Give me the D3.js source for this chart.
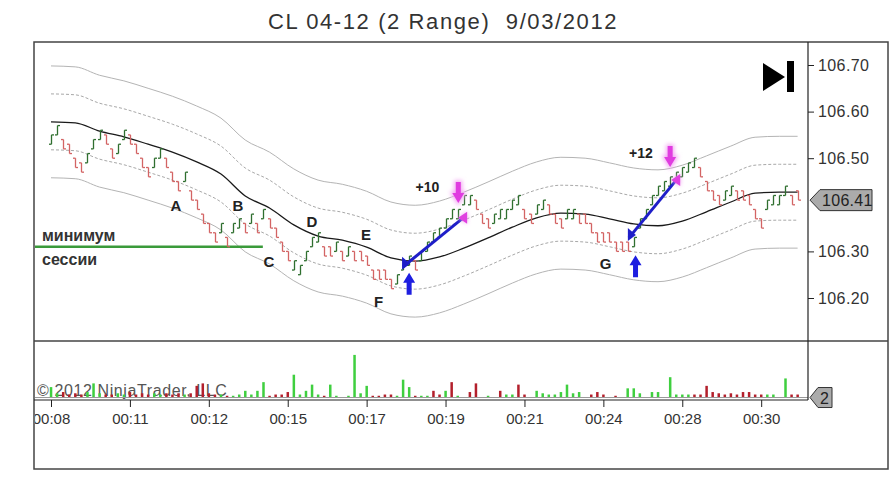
<!DOCTYPE html>
<html><head><meta charset="utf-8">
<script src="https://cdn.jsdelivr.net/npm/d3@7"></script>
<style>body{margin:0;background:#fff}svg{display:block;font-family:"Liberation Sans",Arial,sans-serif}</style>
</head><body><svg id="c" width="892" height="485"></svg>
<script>
// ---------------- DATA ----------------
const title = "CL 04-12 (2 Range)\u00a0\u00a09/03/2012";
const barRange = 0.02;
const barLow = [
 106.53,106.55,106.52,106.51,106.48,106.47,106.49,106.52,106.54,106.53,
 106.50,106.51,106.54,106.53,106.51,106.48,106.46,106.48,106.50,106.48,
 106.45,106.43,106.45,106.41,106.39,106.36,106.34,106.32,106.34,106.31,
 106.34,106.35,106.34,106.36,106.34,106.37,106.35,106.33,106.30,106.28,
 106.26,106.25,106.28,106.31,106.32,106.29,106.29,106.30,106.28,106.29,
 106.28,106.28,106.27,106.24,106.24,106.24,106.22,106.23,106.26,106.27,
 106.26,106.28,106.30,106.32,106.33,106.35,106.37,106.37,106.40,106.40,
 106.39,106.36,106.35,106.36,106.37,106.37,106.39,106.40,106.37,106.36,
 106.38,106.39,106.38,106.36,106.35,106.37,106.37,106.36,106.36,106.34,
 106.32,106.32,106.32,106.30,106.30,106.30,106.31,106.35,106.37,106.40,
 106.42,106.43,106.44,106.45,106.46,106.47,106.48,106.46,106.43,106.41,
 106.40,106.41,106.42,106.41,106.41,106.40,106.37,106.35,106.39,106.40,
 106.40,106.42,106.40,106.41];
const barDir =
 "uudddduuud"+"duudddduud"+"ddudddddud"+"uudududddd"+"uuuuudduDu".toLowerCase()+
 "ddddddduuu"+"duuuuuuuuu"+"ddduuuuudd"+"uuddduuddd"+
 "dddddduuuu"+"uuuuuuuddd"+"duuddddduu"+"uudd";
const volume = [
 8,3,4,2,3,2,4,11,3,2, 2,3,2,4,2,3,2,3,2,3, 2,3,2,3,9,11,3,2,2,1,
 1,2,5,2,5,12,1,2,2,4, 18,2,5,10,2,1,10,1,0,1, 34,3,9,1,1,2,2,1,14,8,
 1,1,1,5,2,5,12,1,0,4, 11,0,1,0,5,2,2,10,2,0, 5,3,2,2,4,10,3,4,0,2,
 4,2,0,1,0,7,7,3,0,4, 4,0,16,2,2,2,2,2,9,4, 3,2,3,2,4,4,2,2,2,2,
 0,15,2,2];
const volDir =
 "uudddduuud"+"duudddduud"+"ddudddddud"+"uuuuuudddd"+"uuuuuduudu"+
 "uuudddduuu"+"duudduduud"+"dduuduuddd"+"uuuuuuuudd"+"ddddduuuuu"+
 "uuuuuudddd"+"dddddddduu"+"uudd";
const maBars = [0,4,8,12,16,20,24,28,32,36,40,44,48,52,56,60,64,68,72,76,80,84,88,92,96,100,104,108,112,116,120,123];
const maVals = [106.578,106.576,106.558,106.546,106.530,106.513,106.492,106.466,106.419,106.393,
 106.357,106.333,106.324,106.309,106.286,106.279,106.288,106.307,106.329,106.352,106.372,106.382,
 106.380,106.370,106.359,106.355,106.365,106.385,106.406,106.425,106.427,106.427];
const bandOffsets = [0.06, 0.12];
const priceTicks = [106.20,106.30,106.50,106.60,106.70]; // 106.40 is hidden behind the last-price marker
const timeTickBars = [0,13,26,39,52,65,78,91,104,117];
const timeTickLabels = ["00:08","00:11","00:12","00:15","00:17","00:19","00:21","00:24","00:28","00:30"];
const lastPrice = 106.41, lastVolume = 2;
const sessionLow = 106.31, sessionLowEndBar = 34.9;
const sessionLowText = ["минимум","сессии"];
const pointLabels = [
 {t:"A",bar:20.6,price:106.387},{t:"B",bar:30.8,price:106.387},{t:"C",bar:35.9,price:106.267},
 {t:"D",bar:43.0,price:106.352},{t:"E",bar:51.9,price:106.324},{t:"F",bar:53.95,price:106.181},
 {t:"G",bar:91.35,price:106.262}];
const entryArrows = [{bar:59,price:106.254},{bar:96.3,price:106.292}];
const exitArrows = [{bar:67.1,price:106.404},{bar:102,price:106.481}];
const trades = [
 {b0:58.0,p0:106.267,b1:67.9,p1:106.372,label:"+10",lb:62.0,lp:106.428},
 {b0:95.2,p0:106.329,b1:103.0,p1:106.453,label:"+12",lb:97.2,lp:106.500}];
const copyright = "\u00a9 2012 NinjaTrader, LLC";

// ---------------- LAYOUT ----------------
const svg = d3.select("#c");
const L = 34, R = 888, T = 42, B = 469, AX = 808, SEP = 341, VB = 397, VBOT = 400;
const x = d3.scaleLinear().domain([0,123]).range([51,797.6]);
const y = d3.scaleLinear().domain([106.20,106.70]).range([298,65]);
const yv = d3.scaleLinear().domain([0,42]).range([VB,SEP+4]);

svg.append("text").attr("x",443).attr("y",29).attr("text-anchor","middle")
  .attr("font-size",22).attr("letter-spacing",1.6).attr("fill","#333").text(title);

const defs = svg.append("defs");
defs.append("clipPath").attr("id","pc").append("rect").attr("x",L+1).attr("y",T+1).attr("width",AX-L-1).attr("height",SEP-T-1);
defs.append("clipPath").attr("id","vc").append("rect").attr("x",L+1).attr("y",SEP).attr("width",AX-L-1).attr("height",VBOT-SEP);
defs.append("clipPath").attr("id","xc").append("rect").attr("x",L+1).attr("y",VBOT).attr("width",AX-L).attr("height",B-VBOT);
const glow = defs.append("filter").attr("id","glow").attr("x","-50%").attr("y","-50%").attr("width","200%").attr("height","200%");
glow.append("feGaussianBlur").attr("stdDeviation",2);

const pg = svg.append("g").attr("clip-path","url(#pc)");

// bands
const ma = maBars.map((b,i)=>({b, v:maVals[i]}));
const line = off => d3.line().x(d=>x(d.b)).y(d=>y(d.v+off)).curve(d3.curveMonotoneX)(ma);
bandOffsets.forEach((o,k)=>{
  [o,-o].forEach(off=>{
    pg.append("path").attr("d",line(off)).attr("fill","none")
      .attr("stroke", k===0 ? "#a8a8a8" : "#b4b4b4").attr("stroke-width",1)
      .attr("stroke-dasharray", k===0 ? "3,2" : null);
  });
});
pg.append("path").attr("d",line(0)).attr("fill","none").attr("stroke","#1a1a1a").attr("stroke-width",1.3);

// session low line
pg.append("line").attr("x1",L).attr("x2",x(sessionLowEndBar)).attr("y1",y(sessionLow)).attr("y2",y(sessionLow))
  .attr("stroke","#3a9a3a").attr("stroke-width",2.5);
pg.append("text").attr("x",L+8).attr("y",y(sessionLow)-6).attr("font-size",16).attr("font-weight","bold").attr("fill","#333").text(sessionLowText[0]);
pg.append("text").attr("x",L+8).attr("y",y(sessionLow)+18).attr("font-size",16).attr("font-weight","bold").attr("fill","#333").text(sessionLowText[1]);

// OHLC range bars
const bars = barLow.map((lo,i)=>{
  const up = barDir[i]==="u";
  const hi = +(lo+barRange).toFixed(2);
  return {i, lo, hi, o: up?lo:hi, c: up?hi:lo, up};
});
const bg = pg.append("g");
bars.forEach(d=>{
  const col = d.up ? "#2f6f2f" : "#d36464";
  const xx = Math.round(x(d.i))+0.5;
  bg.append("line").attr("x1",xx).attr("x2",xx).attr("y1",y(d.hi)).attr("y2",y(d.lo)).attr("stroke",col).attr("stroke-width",1.3);
  bg.append("line").attr("x1",xx-2.5).attr("x2",xx).attr("y1",y(d.o)).attr("y2",y(d.o)).attr("stroke",col).attr("stroke-width",1.3);
  bg.append("line").attr("x1",xx).attr("x2",xx+2.5).attr("y1",y(d.c)).attr("y2",y(d.c)).attr("stroke",col).attr("stroke-width",1.3);
});

// point labels
pointLabels.forEach(p=>{
  pg.append("text").attr("x",x(p.bar)).attr("y",y(p.price)).attr("text-anchor","middle")
    .attr("font-size",15).attr("font-weight","bold").attr("fill","#222").text(p.t);
});

// trades
trades.forEach(t=>{
  const x0=x(t.b0), y0=y(t.p0), x1=x(t.b1), y1=y(t.p1);
  pg.append("line").attr("x1",x0).attr("y1",y0).attr("x2",x1).attr("y2",y1).attr("stroke","#1e1ec8").attr("stroke-width",3);
  pg.append("path").attr("d",`M${x0-1},${y0-10} L${x0+7},${y0-3} L${x0-1},${y0+3} Z`).attr("fill","#1e1ec8");
  const tri = `M${x1-5},${y1} L${x1+4},${y1-6} L${x1+4},${y1+6} Z`;
  pg.append("path").attr("d",tri).attr("fill","#f0a0f0").attr("filter","url(#glow)");
  pg.append("path").attr("d",tri).attr("fill","#e040e0");
  pg.append("text").attr("x",x(t.lb)).attr("y",y(t.lp)).attr("text-anchor","middle")
    .attr("font-size",14).attr("font-weight","bold").attr("fill","#222").text(t.label);
});
entryArrows.forEach(a=>{
  const ax=x(a.bar), ay=y(a.price);
  pg.append("path").attr("d",`M${ax},${ay} L${ax+6},${ay+10} L${ax+2.5},${ay+10} L${ax+2.5},${ay+22} L${ax-2.5},${ay+22} L${ax-2.5},${ay+10} L${ax-6},${ay+10} Z`)
    .attr("fill","#1e1ee0");
});
exitArrows.forEach(a=>{
  const ax=x(a.bar), ay=y(a.price);
  const d=`M${ax},${ay} L${ax-6},${ay-10} L${ax-2.5},${ay-10} L${ax-2.5},${ay-21} L${ax+2.5},${ay-21} L${ax+2.5},${ay-10} L${ax+6},${ay-10} Z`;
  pg.append("path").attr("d",d).attr("fill","#f3a6f3").attr("stroke","#f3a6f3").attr("stroke-width",3).attr("filter","url(#glow)");
  pg.append("path").attr("d",d).attr("fill","#e03ce0");
});

// play/end icon
svg.append("path").attr("d","M763,63 L785,77 L763,91 Z").attr("fill","#000");
svg.append("rect").attr("x",787).attr("y",61).attr("width",7).attr("height",31).attr("fill","#000");

// volume panel
const vg = svg.append("g").attr("clip-path","url(#vc)");
vg.append("text").attr("x",L+3).attr("y",VB-1).attr("font-size",16).attr("letter-spacing",0.6).attr("fill","#555").text(copyright);
vg.append("line").attr("x1",L).attr("x2",AX).attr("y1",VB+0.5).attr("y2",VB+0.5).attr("stroke","#999");
volume.forEach((v,i)=>{
  if(v<=0) return;
  vg.append("rect").attr("x",x(i)-1.2).attr("width",2.5).attr("y",yv(v)).attr("height",VB-yv(v))
    .attr("fill", volDir[i]==="u" ? "#3fcf3f" : "#b3202c");
});

// frames and axes
svg.append("rect").attr("x",L).attr("y",T).attr("width",R-L).attr("height",B-T).attr("fill","none").attr("stroke","#444").attr("stroke-width",1.5);
svg.append("line").attr("x1",L).attr("x2",R).attr("y1",SEP).attr("y2",SEP).attr("stroke","#444").attr("stroke-width",1.5);
svg.append("line").attr("x1",AX).attr("x2",AX).attr("y1",T).attr("y2",VBOT).attr("stroke","#222").attr("stroke-width",1.2);
svg.append("line").attr("x1",L).attr("x2",AX).attr("y1",VBOT).attr("y2",VBOT).attr("stroke","#222").attr("stroke-width",1.2);

const yAxis = d3.axisRight(y).tickValues(priceTicks).tickFormat(d3.format(".2f")).tickSize(6).tickPadding(4);
const ya = svg.append("g").attr("transform",`translate(${AX},0)`).call(yAxis);
ya.select(".domain").remove();
ya.selectAll("text").attr("font-size",16).attr("letter-spacing",0.4).attr("fill","#333").attr("font-family","Liberation Sans, Arial, sans-serif");
ya.selectAll("line").attr("stroke","#222");

const xAxis = d3.axisBottom(x).tickValues(timeTickBars).tickFormat((d,i)=>timeTickLabels[i]).tickSize(7).tickPadding(6);
const xa = svg.append("g").attr("clip-path","url(#xc)").append("g").attr("transform",`translate(0,${VBOT})`).call(xAxis);
xa.select(".domain").remove();
xa.selectAll("text").attr("font-size",15).attr("fill","#333").attr("font-family","Liberation Sans, Arial, sans-serif");
xa.selectAll("line").attr("stroke","#222");

// last price marker
const lp = y(lastPrice);
svg.append("path").attr("d",`M${AX+2},${lp} L${AX+12},${lp-10.5} L${AX+64},${lp-10.5} L${AX+64},${lp+10.5} L${AX+12},${lp+10.5} Z`)
  .attr("fill","#ababab").attr("stroke","#333").attr("stroke-width",1);
svg.append("text").attr("x",AX+14).attr("y",lp+6).attr("font-size",16).attr("letter-spacing",0.3).attr("fill","#222").text(d3.format(".2f")(lastPrice));
// last volume marker
const lv = yv(lastVolume)+3;
svg.append("path").attr("d",`M${AX+2},${lv} L${AX+10},${lv-10} L${AX+24},${lv-10} L${AX+24},${lv+10} L${AX+10},${lv+10} Z`)
  .attr("fill","#ababab").attr("stroke","#333").attr("stroke-width",1);
svg.append("text").attr("x",AX+12).attr("y",lv+6).attr("font-size",16).attr("fill","#222").text(lastVolume);
</script></body></html>
